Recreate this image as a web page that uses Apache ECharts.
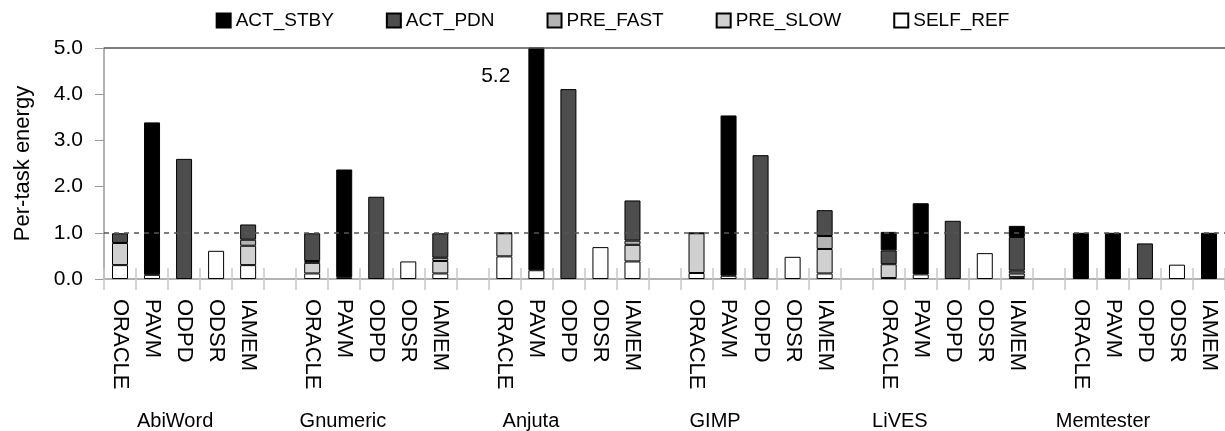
<!DOCTYPE html>
<html>
<head>
<meta charset="utf-8">
<script src="https://cdn.jsdelivr.net/npm/echarts@6/dist/echarts.min.js"></script>
<style>html,body{margin:0;padding:0;background:#fff}#c{width:1225px;height:431px}</style>
</head>
<body>
<div id="c"></div>
<script>
// categories: 6 workloads x 5 policies, blank slot between groups
const policies = ['ORACLE','PAVM','ODPD','ODSR','IAMEM'];
const groups = ['AbiWord','Gnumeric','Anjuta','GIMP','LiVES','Memtester'];
const groupLabelPos = [1.72, 6.96, 12.83, 18.58, 24.35, 30.69];
const yTicks = [0,1,2,3,4,5];

// per-group values [ORACLE, PAVM, ODPD, ODSR, IAMEM]
const SELF_REF = [
  [0.30,0.09,0,0.61,0.30],[0.12,0.04,0,0.38,0.12],[0.49,0.19,0,0.69,0.38],
  [0.13,0.07,0,0.48,0.12],[0.02,0.10,0,0.56,0.04],[0,0,0,0.31,0]];
const PRE_SLOW = [
  [0.48,0,0,0,0.42],[0.23,0,0,0,0.27],[0.50,0,0,0,0.36],
  [0.86,0,0,0,0.53],[0.30,0,0,0,0.08],[0,0,0,0,0]];
const PRE_FAST = [
  [0,0,0,0,0.13],[0.04,0,0,0,0.07],[0,0,0,0,0.09],
  [0,0,0,0,0.28],[0,0,0,0,0.06],[0,0,0,0,0]];
const ACT_PDN = [
  [0.21,0,2.60,0,0.33],[0.60,0,1.78,0,0.53],[0.01,0,4.11,0,0.87],
  [0.01,0,2.68,0,0.56],[0.30,0,1.26,0,0.73],[0,0,0.77,0,0]];
const ACT_STBY = [
  [0,3.30,0,0,0],[0,2.33,0,0,0],[0,5.01,0,0,0],
  [0,3.47,0,0,0],[0.40,1.54,0,0,0.24],[1.00,1.00,0,0,1.00]];
const clippedLabel = {group:2, policy:1, text:'5.2'};

// build flat category list with blank separators
const cats = [];
groups.forEach((g,gi)=>{ policies.forEach(p=>cats.push(p)); if(gi<groups.length-1) cats.push(''); });
function flat(arr){
  const out=[];
  arr.forEach((grp,gi)=>{ grp.forEach(v=>out.push(v>0?v:null)); if(gi<arr.length-1) out.push(null); });
  return out;
}
const FONT = 'Liberation Sans, Arial, sans-serif';
const seriesDefs = [
  ['SELF_REF', SELF_REF, '#ffffff'],
  ['PRE_SLOW', PRE_SLOW, '#d0d0d0'],
  ['PRE_FAST', PRE_FAST, '#b3b3b3'],
  ['ACT_PDN', ACT_PDN, '#4d4d4d'],
  ['ACT_STBY', ACT_STBY, '#000000']
];
const series = seriesDefs.map(([name,arr,color],i)=>{
  const s = {
    name, type:'bar', stack:'e', barWidth:16, data:flat(arr), clip:true,
    itemStyle:{color, borderColor:'#000', borderWidth:1},
    emphasis:{disabled:true}, animation:false
  };
  if(i===0){
    s.markLine = {
      silent:true, symbol:'none', label:{show:false}, animation:false,
      data:[
        {yAxis:1, lineStyle:{type:[5,5], color:'#555', width:1.5}},
        {yAxis:5, lineStyle:{type:'solid', color:'#555', width:1.5}}
      ]
    };
  }
  return s;
});

const chart = echarts.init(document.getElementById('c'), null, {renderer:'canvas'});
chart.setOption({
  animation:false,
  textStyle:{fontFamily:FONT},
  legend:{
    data:['ACT_STBY','ACT_PDN','PRE_FAST','PRE_SLOW','SELF_REF'],
    top:6, left:'center', icon:'rect', itemWidth:14, itemHeight:14, itemGap:52,
    textStyle:{fontSize:19, color:'#000', fontFamily:FONT}
  },
  grid:{left:104, right:0, top:48, bottom:152},
  xAxis:[
    {type:'category', data:cats, position:'bottom',
     axisLine:{show:true, lineStyle:{color:'#999', width:1.5}},
     axisTick:{show:true, length:11, interval:0, lineStyle:{color:'#c8c8c8', width:1.5}},
     axisLabel:{interval:0, rotate:-90, margin:20, fontSize:22, color:'#000', fontFamily:FONT}},
    {type:'category', data:cats, position:'bottom',
     axisLine:{show:false},
     axisTick:{show:true, inside:true, length:11, interval:0, lineStyle:{color:'#c8c8c8', width:1.5}},
     axisLabel:{show:false}}
  ],
  yAxis:{
    type:'value', min:yTicks[0], max:yTicks[yTicks.length-1], interval:1,
    name:'Per-task energy', nameLocation:'middle', nameGap:70, nameRotate:90,
    nameTextStyle:{fontSize:22, color:'#000', fontFamily:FONT},
    axisLine:{show:true, lineStyle:{color:'#999', width:1.5}},
    axisTick:{show:true, length:9, lineStyle:{color:'#999'}},
    axisLabel:{fontSize:21, color:'#000', margin:21, fontFamily:FONT, formatter:v=>v.toFixed(1)},
    splitLine:{show:false}
  },
  series
});

// group labels and clipped-value note, placed through the chart's own scales
const gfx = [];
const bw = chart.getModel().getComponent('xAxis',0).axis.getBandWidth();
groups.forEach((g,i)=>{
  const base = Math.floor(groupLabelPos[i]);
  const p = chart.convertToPixel({xAxisIndex:0, yAxisIndex:0}, [base, 0]);
  const x = p[0] + (groupLabelPos[i]-base)*bw;
  gfx.push({type:'text', x, y:p[1]+142, style:{text:g, fontSize:20, fill:'#000', fontFamily:FONT, align:'center', verticalAlign:'middle'}});
});
{
  const idx = clippedLabel.group*6 + clippedLabel.policy;
  const p = chart.convertToPixel({xAxisIndex:0, yAxisIndex:0}, [idx, 4.4]);
  gfx.push({type:'text', x:p[0]-26, y:p[1], style:{text:clippedLabel.text, fontSize:21, fill:'#000', fontFamily:FONT, align:'right', verticalAlign:'middle'}});
}
chart.setOption({graphic:gfx});
</script>
</body>
</html>
